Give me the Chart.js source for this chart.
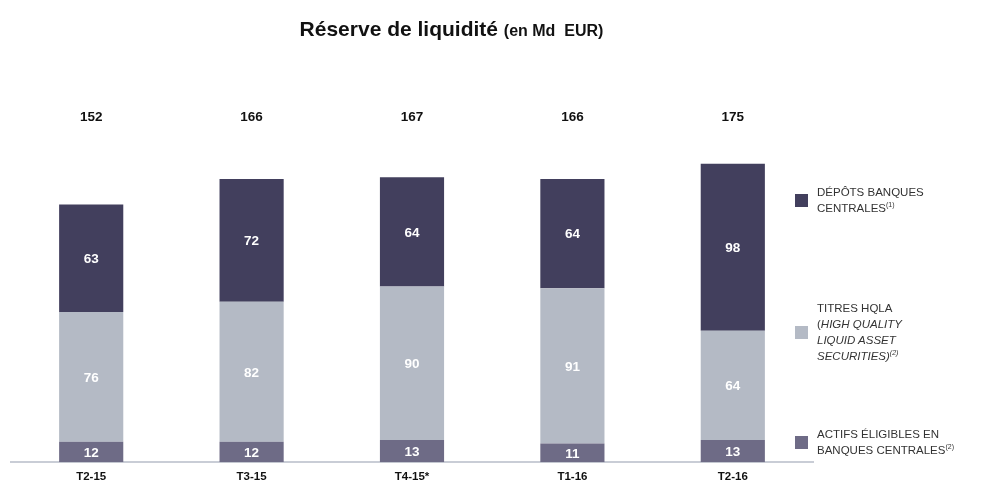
<!DOCTYPE html>
<html>
<head>
<meta charset="utf-8">
<script src="https://cdn.jsdelivr.net/npm/chart.js@4/dist/chart.umd.min.js"></script>
<style>
  html, body { margin: 0; padding: 0; background: #fff; }
  body { width: 986px; height: 488px; position: relative; overflow: hidden; font-family: "Liberation Sans", Arial, sans-serif; }
  #wrap { position: absolute; left: 0; top: 0; width: 986px; height: 492px; }
  #title { position: absolute; top: 17px; left: 0; width: 903px; text-align: center; font-weight: bold; font-size: 21px; color: #111; white-space: nowrap; }
  #title small { font-size: 16px; }
  .leg { position: absolute; left: 795px; display: flex; align-items: center; font-size: 11.5px; color: #333; line-height: 16px; }
  .leg .sw { width: 13px; height: 13px; margin-right: 9px; flex: none; }
  .leg sup { font-size: 7px; vertical-align: 5px; line-height: 0; }
</style>
</head>
<body>
<div id="wrap"><canvas id="chart" width="986" height="492"></canvas></div>
<div id="title">Réserve de liquidité <small>(en Md&nbsp; EUR)</small></div>
<div class="leg" style="top:184px"><div class="sw" style="background:#423f5d"></div><div>DÉPÔTS BANQUES<br>CENTRALES<sup>(1)</sup></div></div>
<div class="leg" style="top:300px"><div class="sw" style="background:#b4bac5"></div><div>TITRES HQLA<br>(<i>HIGH QUALITY<br>LIQUID ASSET<br>SECURITIES)</i><sup><i>(2)</i></sup></div></div>
<div class="leg" style="top:426px"><div class="sw" style="background:#6e6b86"></div><div>ACTIFS ÉLIGIBLES EN<br>BANQUES CENTRALES<sup>(2)</sup></div></div>
<script>
const categories = ['T2-15', 'T3-15', 'T4-15*', 'T1-16', 'T2-16'];
const actifsEligibles = [12, 12, 13, 11, 13];
const titresHqla = [76, 82, 90, 91, 64];
const depotsBanques = [63, 72, 64, 64, 98];
const totals = [152, 166, 167, 166, 175];

const colors = {
    depots: '#423f5d',
    titres: '#b4bac5',
    actifs: '#6e6b86'
};

// étiquettes des valeurs dans les barres + totaux au-dessus
const labelsPlugin = {
    id: 'labels',
    afterDatasetsDraw(chart) {
        const ctx = chart.ctx;
        ctx.save();
        ctx.textAlign = 'center';
        ctx.textBaseline = 'middle';
        ctx.font = 'bold 13.5px "Liberation Sans", Arial, sans-serif';
        chart.data.datasets.forEach((ds, di) => {
            const meta = chart.getDatasetMeta(di);
            meta.data.forEach((bar, i) => {
                ctx.fillStyle = '#ffffff';
                ctx.fillText(ds.data[i], bar.x, (bar.y + bar.base) / 2 + 1);
            });
        });
        const meta0 = chart.getDatasetMeta(0);
        ctx.fillStyle = '#111';
        meta0.data.forEach((bar, i) => {
            ctx.fillText(totals[i], bar.x, 117);
        });
        ctx.restore();
    }
};

new Chart(document.getElementById('chart'), {
    type: 'bar',
    data: {
        labels: categories,
        datasets: [
            { label: 'Actifs éligibles', data: actifsEligibles, backgroundColor: colors.actifs },
            { label: 'Titres HQLA', data: titresHqla, backgroundColor: colors.titres },
            { label: 'Dépôts banques centrales', data: depotsBanques, backgroundColor: colors.depots }
        ]
    },
    options: {
        responsive: false,
        animation: false,
        layout: { padding: { top: 121, right: 173, left: 11, bottom: 0 } },
        datasets: { bar: { categoryPercentage: 1, barPercentage: 0.4 } },
        plugins: { legend: { display: false }, tooltip: { enabled: false } },
        scales: {
            x: {
                stacked: true,
                grid: { display: true, drawOnChartArea: false, drawTicks: false, color: 'transparent' },
                border: { display: true, color: '#c9cdd6', width: 2 },
                ticks: { color: '#111', font: { family: '"Liberation Sans", Arial, sans-serif', size: 11.5, weight: 'bold' }, padding: 8 }
            },
            y: {
                stacked: true,
                display: false,
                min: 0,
                max: 200
            }
        }
    },
    plugins: [labelsPlugin]
});
</script>
</body>
</html>
